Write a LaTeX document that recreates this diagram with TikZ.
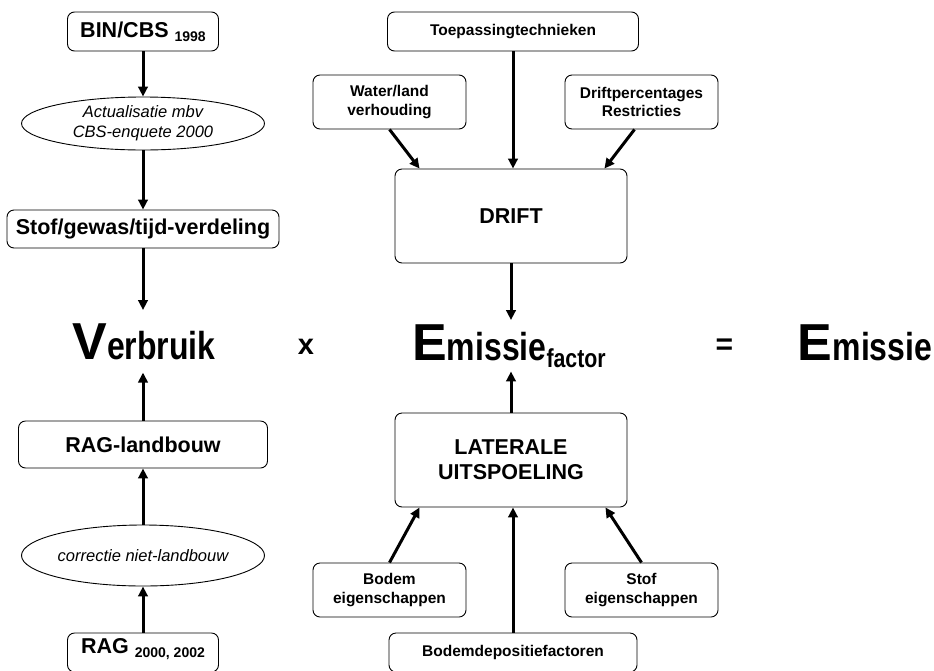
\documentclass[tikz,border=0pt]{standalone}
\usepackage{fontspec}
\setmainfont{Liberation Sans}
\newfontfamily\narrowsans[FakeStretch=0.82]{Liberation Sans}
\usetikzlibrary{arrows.meta,shapes.geometric}

\begin{document}
\begin{tikzpicture}[
  x=1pt, y=-1pt,
  box/.style={draw, rounded corners=7pt, line width=0.9pt, inner sep=0pt, align=center, font=\fontsize{15.5}{18.5}\selectfont\bfseries},
  bigbox/.style={box, font=\fontsize{21.5}{25}\selectfont\bfseries},
  oval/.style={draw, ellipse, line width=0.9pt, inner sep=0pt, align=center, font=\fontsize{16.5}{20}\selectfont\itshape},
  term/.style={inner xsep=0pt, anchor=base},
  arrow/.style={-{Triangle[length=10pt,width=9.5pt]}, line width=3pt}
]
\clip (0,0) rectangle (934,670);

% left column: verbruik
\node[bigbox, minimum width=151pt, minimum height=39pt] (bin) at (143,31.5) {BIN/CBS \raisebox{-4pt}{\fontsize{14}{14}\selectfont 1998}};
\node[oval, minimum width=243pt, minimum height=53pt] (actual) at (143,123.5) {Actualisatie mbv\\CBS-enquete 2000};
\node[bigbox, minimum width=272pt, minimum height=38pt] (verdeling) at (143,229) {Stof/gewas/tijd-verdeling};
\node[bigbox, minimum width=249pt, minimum height=47pt] (raglb) at (143,444.5) {RAG-landbouw};
\node[oval, minimum width=243pt, minimum height=61pt] (correctie) at (143,555.5) {correctie niet-landbouw};
\node[bigbox, minimum width=151pt, minimum height=39pt, text height=15pt, text depth=14pt] (rag) at (143,652.5) {RAG \raisebox{-4pt}{\fontsize{14}{14}\selectfont 2000, 2002}};

% middle column: emissiefactor
\node[box, minimum width=251pt, minimum height=39pt] (toep) at (513,31.5) {Toepassingtechnieken};
\node[box, minimum width=153pt, minimum height=54pt] (water) at (389.5,102) {Water/land\\verhouding};
\node[box, minimum width=153pt, minimum height=54pt] (driftp) at (641.5,102) {Driftpercentages\\Restricties};
\node[bigbox, minimum width=232pt, minimum height=94pt] (drift) at (511,216) {DRIFT};
\node[bigbox, minimum width=232pt, minimum height=94pt] (lat) at (511,460) {LATERALE\\UITSPOELING};
\node[box, minimum width=153pt, minimum height=54pt] (bodem) at (389.5,590) {Bodem\\eigenschappen};
\node[box, minimum width=153pt, minimum height=54pt] (stofe) at (641.5,590) {Stof\\eigenschappen};
\node[box, minimum width=248pt, minimum height=39pt] (bdf) at (513,652.5) {Bodemdepositiefactoren};

% formula
\node[term, inner ysep=13pt] (verbruik) at (144,359) {{\fontsize{52}{52}\selectfont\bfseries V}{\narrowsans\bfseries\fontsize{39}{39}\selectfont erbruik}};
\node[term] (times) at (306,354) {\fontsize{29}{29}\selectfont\bfseries x};
\node[term, inner ysep=4pt] (emf) at (509,360) {{\fontsize{52}{52}\selectfont\bfseries E}{\narrowsans\bfseries\fontsize{39}{39}\selectfont missie\raisebox{-7pt}{\fontsize{26}{26}\selectfont factor}}};
\node[term] (equals) at (724.5,354) {\fontsize{30}{30}\selectfont\bfseries =};
\node[term] (emis) at (865,360) {{\fontsize{52}{52}\selectfont\bfseries E}{\narrowsans\bfseries\fontsize{39}{39}\selectfont missie}};

% connectors
\draw[arrow] (bin) -- (actual);
\draw[arrow] (actual) -- (verdeling);
\draw[arrow] (verdeling.south) -- (verdeling.south |- verbruik.north);
\draw[arrow] (rag.north) -- (correctie.south);
\draw[arrow] (correctie) -- (raglb);
\draw[arrow] (raglb.north) -- (raglb.north |- verbruik.south);
\draw[arrow] (water.south) -- ([xshift=25pt]drift.north west);
\draw[arrow] (toep.south) -- (toep.south |- drift.north);
\draw[arrow] ([xshift=-7pt]driftp.south) -- ([xshift=-23pt]drift.north east);
\draw[arrow] (drift.south) -- (drift.south |- emf.north);
\draw[arrow] (bodem.north) -- ([xshift=25pt]lat.south west);
\draw[arrow] (bdf.north) -- (bdf.north |- lat.south);
\draw[arrow] (stofe.north) -- ([xshift=-22pt]lat.south east);
\draw[arrow] (lat.north) -- (lat.north |- emf.south);
\end{tikzpicture}
\end{document}
